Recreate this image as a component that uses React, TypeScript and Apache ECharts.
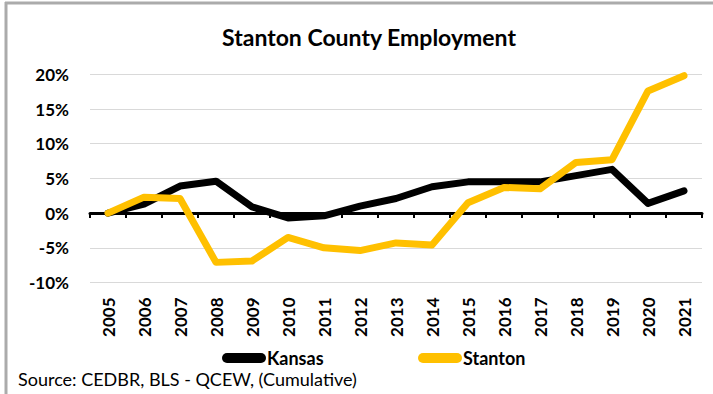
import React, { useEffect, useRef } from "react";
import * as echarts from "echarts";

const years = ["2005","2006","2007","2008","2009","2010","2011","2012","2013","2014","2015","2016","2017","2018","2019","2020","2021"];
const kansas = [0, 1.3, 3.9, 4.6, 0.9, -0.7, -0.4, 1.0, 2.1, 3.8, 4.5, 4.5, 4.5, 5.4, 6.3, 1.4, 3.2];
const stanton = [0, 2.3, 2.1, -7.1, -6.9, -3.5, -5.0, -5.4, -4.3, -4.6, 1.5, 3.7, 3.5, 7.3, 7.7, 17.6, 19.8];
const yTicks = { min: -10, max: 20, interval: 5 };

const FONT = "Lato";

export default function App() {
  const ref = useRef<HTMLDivElement>(null);
  useEffect(() => {
    if (!ref.current) return;
    const chart = echarts.init(ref.current, null, { renderer: "svg" });
    chart.setOption({
      animation: false,
      backgroundColor: "#ffffff",
      title: {
        text: "Stanton County Employment",
        left: 364,
        textAlign: "center",
        top: 20,
        textStyle: { fontFamily: FONT, fontWeight: "bold", fontSize: 23, color: "#000" },
      },
      graphic: [
        { type: "line", shape: { x1: 5, y1: 3, x2: 713, y2: 3 }, style: { stroke: "#ababab", lineWidth: 3 } },
        { type: "line", shape: { x1: 6, y1: 2, x2: 6, y2: 394 }, style: { stroke: "#ababab", lineWidth: 3 } },
        {
          type: "text",
          left: 18,
          top: 370,
          style: { text: "Source: CEDBR, BLS - QCEW, (Cumulative)", font: `18px ${FONT}`, fill: "#000" },
        },
      ],
      legend: [
        {
          data: ["Kansas"],
          left: 217,
          top: 344,
          itemWidth: 44,
          itemHeight: 10,
          icon: "path://M5,0 H39 A5,5 0 0 1 39,10 H5 A5,5 0 0 1 5,0 Z",
          itemGap: 0,
          textStyle: { fontFamily: FONT, fontWeight: "bold", fontSize: 18, color: "#000", padding: [0, 0, 0, -4] },
        },
        {
          data: ["Stanton"],
          left: 413,
          top: 344,
          itemWidth: 44,
          itemHeight: 10,
          icon: "path://M5,0 H39 A5,5 0 0 1 39,10 H5 A5,5 0 0 1 5,0 Z",
          itemGap: 0,
          textStyle: { fontFamily: FONT, fontWeight: "bold", fontSize: 18, color: "#000", padding: [0, 0, 0, -4] },
        },
      ],
      grid: { left: 90, right: 11, top: 74.3, bottom: 111.5, containLabel: false },
      xAxis: [
        {
          type: "category",
          data: years,
          boundaryGap: true,
          axisLine: { onZero: true, lineStyle: { color: "#000", width: 3 } },
          axisTick: { show: true, length: 5, lineStyle: { color: "#000", width: 2 } },
          axisLabel: { show: false },
        },
        {
          type: "category",
          data: years,
          position: "bottom",
          boundaryGap: true,
          axisLine: { show: false, onZero: false },
          axisTick: { show: false },
          axisLabel: {
            rotate: 90,
            margin: 15,
            fontFamily: FONT,
            fontWeight: "bold",
            fontSize: 17,
            color: "#000",
          },
        },
      ],
      yAxis: {
        type: "value",
        min: yTicks.min,
        max: yTicks.max,
        interval: yTicks.interval,
        axisLine: { show: false },
        axisTick: { show: false },
        splitLine: { lineStyle: { color: "#d9d9d9", width: 1 } },
        axisLabel: {
          formatter: (v: number) => `${v}%`,
          margin: 21,
          fontFamily: FONT,
          fontWeight: "bold",
          fontSize: 17,
          color: "#000",
        },
      },
      series: [
        {
          name: "Kansas",
          type: "line",
          data: kansas,
          xAxisIndex: 0,
          symbol: "none",
          clip: false,
          lineStyle: { color: "#000000", width: 7, join: "round", cap: "round" },
          itemStyle: { color: "#000000" },
        },
        {
          name: "Stanton",
          type: "line",
          data: stanton,
          xAxisIndex: 0,
          symbol: "none",
          clip: false,
          lineStyle: { color: "#FFC000", width: 7, join: "round", cap: "round" },
          itemStyle: { color: "#FFC000" },
        },
      ],
    });
    return () => chart.dispose();
  }, []);
  return <div ref={ref} style={{ width: 713, height: 394, position: "absolute", left: 0, top: 0 }} />;
}
